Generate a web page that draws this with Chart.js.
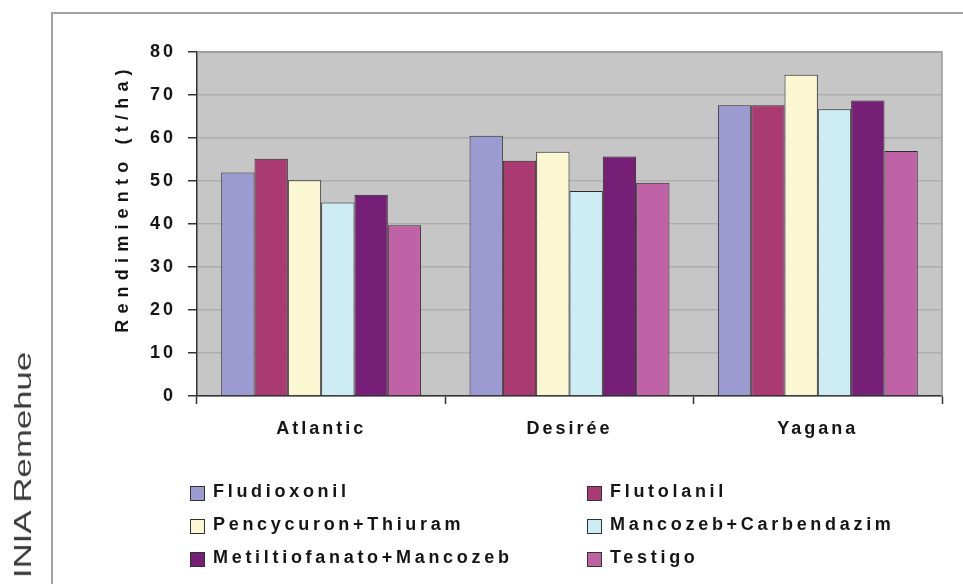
<!DOCTYPE html>
<html>
<head>
<meta charset="utf-8">
<script src="https://cdn.jsdelivr.net/npm/chart.js@4/dist/chart.umd.min.js"></script>
<style>
  html, body { margin: 0; padding: 0; background: #fff; }
  #wrap { position: relative; width: 963px; height: 584px; overflow: hidden;
          font-family: "Liberation Sans", Arial, sans-serif; }
  #frame { position: absolute; left: 51px; top: 12px; width: 980px; height: 620px;
           border-left: 2px solid #a2a2a2; border-top: 2px solid #a2a2a2; }
  #chart { position: absolute; left: 0; top: 0; }
  #credit { position: absolute; left: 23px; top: 465px; white-space: nowrap;
            font-size: 24px; color: #3a3a3a;
            transform: translate(-50%, -50%) rotate(-90deg) scaleX(1.45); }
  #legend { position: absolute; left: 190px; top: 475px; display: grid;
            grid-template-columns: 397px auto; grid-auto-rows: 33px; }
  .item { display: flex; align-items: center; font-weight: bold; font-size: 18px;
          letter-spacing: 3.7px; color: #151515; white-space: nowrap; }
  .box { width: 13px; height: 13px; border: 1px solid #333; margin-right: 8px;
         transform: translateY(2px); flex: none; }
</style>
</head>
<body>
<div id="wrap">
  <div id="frame"></div>
  <canvas id="chart" width="963" height="584"></canvas>
  <div id="credit">INIA Remehue</div>
  <div id="legend"></div>
</div>
<script>
// Potato varieties and yield (t/ha) per seed treatment
const categories = ['Atlantic', 'Desirée', 'Yagana'];
const treatments = ['Fludioxonil', 'Flutolanil', 'Pencycuron+Thiuram',
                    'Mancozeb+Carbendazim', 'Metiltiofanato+Mancozeb', 'Testigo'];
const fludioxonil            = [52.0, 60.5, 67.6];
const flutolanil             = [55.2, 54.7, 67.6];
const pencycuronThiuram      = [50.2, 56.8, 74.7];
const mancozebCarbendazim    = [45.0, 47.7, 66.7];
const metiltiofanatoMancozeb = [46.8, 55.7, 68.7];
const testigo                = [39.7, 49.6, 57.0];
const yTicks = [0, 10, 20, 30, 40, 50, 60, 70, 80];
const yTitle = 'Rendimiento (t/ha)';

const seriesValues = [fludioxonil, flutolanil, pencycuronThiuram,
                      mancozebCarbendazim, metiltiofanatoMancozeb, testigo];
const seriesColors = ['#9b9bd2', '#a93b72', '#fbf7d3', '#cdecf3', '#761f77', '#bf63a6'];

const FONT = '"Liberation Sans", Arial, sans-serif';

// Legend laid out in two columns, three rows
const legendEl = document.getElementById('legend');
treatments.forEach((name, i) => {
  const item = document.createElement('div');
  item.className = 'item';
  const box = document.createElement('span');
  box.className = 'box';
  box.style.background = seriesColors[i];
  item.appendChild(box);
  item.appendChild(document.createTextNode(name));
  legendEl.appendChild(item);
});

// Grey plot background, frame lines and rotated axis title
const plotDecor = {
  id: 'plotDecor',
  beforeDraw(chart) {
    const { ctx, chartArea: a } = chart;
    ctx.letterSpacing = '3px';
    ctx.save();
    ctx.letterSpacing = '0px';
    ctx.fillStyle = '#c6c6c6';
    ctx.fillRect(a.left, a.top, a.right - a.left, a.bottom - a.top);
    ctx.restore();
  },
  afterDraw(chart) {
    const { ctx, chartArea: a } = chart;
    ctx.save();
    ctx.letterSpacing = '0px';
    ctx.strokeStyle = '#9a9a9a';
    ctx.lineWidth = 1.5;
    ctx.beginPath();
    ctx.moveTo(a.left, a.top);
    ctx.lineTo(a.right, a.top);
    ctx.lineTo(a.right, a.bottom);
    ctx.stroke();
    ctx.restore();

    ctx.save();
    ctx.letterSpacing = '6.2px';
    ctx.translate(123, 201);
    ctx.rotate(-Math.PI / 2);
    ctx.font = 'bold 18px ' + FONT;
    ctx.fillStyle = '#151515';
    ctx.textAlign = 'center';
    ctx.textBaseline = 'middle';
    ctx.fillText(yTitle, 3, 0);
    ctx.restore();
    ctx.letterSpacing = '0px';
  }
};

const tickFont = { family: FONT, size: 18, weight: 'bold' };

new Chart(document.getElementById('chart'), {
  type: 'bar',
  data: {
    labels: categories,
    datasets: treatments.map((name, i) => ({
      label: name,
      data: seriesValues[i],
      backgroundColor: seriesColors[i],
      borderColor: '#2b2b2b',
      borderWidth: 1,
      barPercentage: 1,
      categoryPercentage: 0.805
    }))
  },
  options: {
    responsive: false,
    animation: false,
    devicePixelRatio: 1,
    layout: { padding: { left: 60, top: 52, right: 21, bottom: 0 } },
    plugins: { legend: { display: false }, tooltip: { enabled: false } },
    scales: {
      x: {
        grid: { drawOnChartArea: false, drawTicks: true, tickLength: 8,
                tickColor: '#333', tickWidth: 1.5, offset: true },
        border: { color: '#333', width: 1.5 },
        ticks: { font: tickFont, color: '#151515', padding: 14 },
        afterFit(s) { s.height = 188; }
      },
      y: {
        min: 0, max: 80,
        afterBuildTicks(s) { s.ticks = yTicks.map(v => ({ value: v })); },
        ticks: { font: tickFont, color: '#151515', padding: 12 },
        grid: { color: '#adadad', lineWidth: 1.5, tickColor: '#333',
                tickWidth: 1.5, tickLength: 9 },
        border: { color: '#333', width: 1.5 },
        afterFit(s) { s.width = 137; }
      }
    }
  },
  plugins: [plotDecor]
});
</script>
</body>
</html>
